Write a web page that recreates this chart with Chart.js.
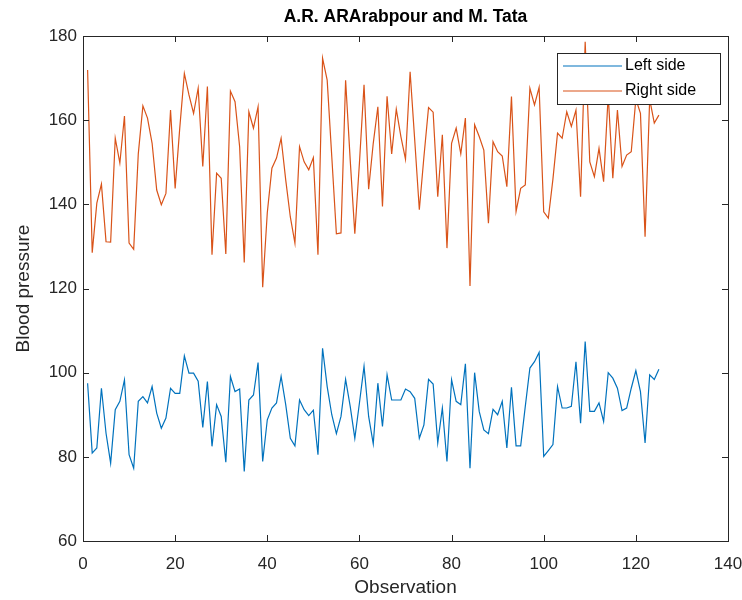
<!DOCTYPE html>
<html>
<head>
<meta charset="utf-8">
<title>Blood pressure</title>
<script src="https://cdn.jsdelivr.net/npm/chart.js@4.4.1/dist/chart.umd.min.js"></script>
<style>
  html, body { margin: 0; padding: 0; background: #fff; }
  #wrap { width: 742px; height: 600px; }
</style>
</head>
<body>
<div id="wrap"><canvas id="bp-chart" width="742" height="600"></canvas></div>
<script>
// values, one per observation (1..125)
const leftSide = [
  97.5, 80.9, 82.1, 96.3, 85.6, 78.5, 91.2, 93.2, 98.3, 80.5,
  77.3, 93.2, 94.3, 92.8, 96.7, 90.4, 86.8, 89.2, 96.3, 95.1,
  95.1, 104, 99.9, 99.9, 98, 87, 97.9, 82.5, 92.4, 89.6,
  78.7, 99.1, 95.5, 96.1, 76.5, 93.5, 94.7, 102.4, 78.9, 88.8,
  91.6, 92.8, 99.1, 92.4, 84.4, 82.6, 93.5, 91.2, 89.8, 91.1,
  80.5, 105.8, 96.7, 90, 85.5, 89.6, 98.4, 92, 84.4, 92.8,
  101.5, 89.6, 83.1, 97.5, 87.2, 99.5, 93.5, 93.5, 93.5, 96.1,
  95.5, 93.9, 84.4, 87.6, 98.4, 97.3, 83.3, 91.6, 78.9, 98.3,
  93.2, 92.4, 102.1, 77.3, 100, 90.8, 86.4, 85.5, 91.3, 90,
  93.2, 82.1, 96.5, 82.6, 82.6, 92, 101.1, 102.6, 104.8, 80.1,
  81.5, 82.9, 96.7, 91.6, 91.6, 92, 102.6, 88, 107.4, 90.8,
  90.8, 92.8, 88.4, 100, 98.7, 96.3, 91, 91.6, 96.3, 100.5,
  95.5, 83.3, 99.5, 98.4, 100.8
];
const rightSide = [
  171.9, 128.5, 140.3, 144.8, 131.1, 131, 155.7, 149.8, 161, 130.8,
  129.3, 152, 163.4, 160.5, 154.5, 143.4, 139.9, 142.6, 162.4, 143.8,
  158.1, 171.1, 166, 161.6, 167.6, 149, 168, 128, 147.4, 146.2,
  128.2, 166.9, 164.4, 153.7, 126.2, 162, 158.1, 163.2, 120.3, 138,
  148.6, 151, 155.7, 145.8, 137, 130.8, 153.7, 150.1, 148.2, 151.1,
  128, 174.7, 169.5, 151.3, 133, 133.2, 169.5, 150.5, 133, 149.8,
  168.4, 143.6, 154.5, 163.2, 139.5, 165.7, 152, 162.6, 156.1, 150.7,
  171.5, 155.3, 138.7, 151.3, 163, 161.9, 141.8, 156.5, 129.6, 154.5,
  158.1, 152, 160.5, 120.6, 158.9, 156.1, 152.9, 135.5, 154.9, 152.5,
  151.5, 144.2, 165.6, 138.3, 143.8, 144.6, 167.6, 163.6, 167.8, 138.2,
  136.7, 146, 156.9, 155.7, 162, 158.5, 162.4, 141.8, 178.6, 150.1,
  146.6, 153.3, 145.4, 166, 146.2, 162.4, 149, 151.7, 152.5, 165,
  161.6, 132.3, 165, 159.3, 161.2
];
const observations = leftSide.map((_, i) => i + 1);
const seriesNames = ['Left side', 'Right side'];
const xTicks = [0, 20, 40, 60, 80, 100, 120, 140];
const yTicks = [60, 80, 100, 120, 140, 160, 180];

const FONT = "'Liberation Sans', Arial, Helvetica, sans-serif";
const AXIS_COLOR = '#262626';

// MATLAB style box with inward ticks on all four sides, plus the boxed legend
const matlabAxes = {
  id: 'matlabAxes',
  afterDraw(chart) {
    const { ctx, chartArea: a, scales } = chart;
    const len = 6;
    ctx.save();
    ctx.strokeStyle = AXIS_COLOR;
    ctx.lineWidth = 1;
    ctx.beginPath();
    scales.x.ticks.forEach(t => {
      const px = Math.round(scales.x.getPixelForValue(t.value)) + 0.5;
      ctx.moveTo(px, a.bottom); ctx.lineTo(px, a.bottom - len);
      ctx.moveTo(px, a.top); ctx.lineTo(px, a.top + len);
    });
    scales.y.ticks.forEach(t => {
      const py = Math.round(scales.y.getPixelForValue(t.value)) + 0.5;
      ctx.moveTo(a.left, py); ctx.lineTo(a.left + len, py);
      ctx.moveTo(a.right, py); ctx.lineTo(a.right - len, py);
    });
    ctx.stroke();
    ctx.strokeRect(Math.round(a.left) + 0.5, Math.round(a.top) + 0.5,
      Math.round(a.right - a.left), Math.round(a.bottom - a.top));

    // legend box
    const bx = a.right - 171, by = a.top + 17, bw = 163, bh = 51;
    ctx.fillStyle = '#fff';
    ctx.fillRect(bx, by, bw, bh);
    ctx.strokeRect(bx + 0.5, by + 0.5, bw, bh);
    ctx.font = '16px ' + FONT;
    ctx.textBaseline = 'middle';
    chart.data.datasets.forEach((ds, i) => {
      const cy = by + 13 + i * 25;
      ctx.strokeStyle = ds.borderColor;
      ctx.lineWidth = 1.2;
      ctx.beginPath();
      ctx.moveTo(bx + 6, cy); ctx.lineTo(bx + 65, cy);
      ctx.stroke();
      ctx.fillStyle = '#000';
      ctx.fillText(ds.label, bx + 68, cy);
    });
    ctx.restore();
  }
};

const toPoints = vals => vals.map((v, i) => ({ x: observations[i], y: v }));

new Chart(document.getElementById('bp-chart').getContext('2d'), {
  type: 'line',
  data: {
    datasets: [
      { label: seriesNames[0], data: toPoints(leftSide), borderColor: '#0072BD', borderWidth: 1.2, pointRadius: 0, tension: 0 },
      { label: seriesNames[1], data: toPoints(rightSide), borderColor: '#D95319', borderWidth: 1.2, pointRadius: 0, tension: 0 }
    ]
  },
  options: {
    responsive: false,
    animation: false,
    layout: { padding: 0 },
    plugins: {
      legend: { display: false },
      tooltip: { enabled: false },
      title: {
        display: true,
        fullSize: false,
        text: 'A.R. ARArabpour and M. Tata',
        color: '#000',
        font: { family: FONT, size: 17.5, weight: 'bold' },
        padding: { top: 7, bottom: 8 }
      }
    },
    scales: {
      x: {
        type: 'linear',
        min: 0, max: 140,
        afterBuildTicks: s => { s.ticks = xTicks.map(v => ({ value: v })); },
        afterFit: s => { s.height = 59; s.paddingLeft = 0; s.paddingRight = 14; },
        grid: { display: false, drawTicks: false },
        border: { display: false },
        ticks: { color: AXIS_COLOR, padding: 13, maxRotation: 0, font: { family: FONT, size: 17 } },
        title: { display: true, text: 'Observation', color: AXIS_COLOR, padding: { top: 0, bottom: 1 }, font: { family: FONT, size: 19 } }
      },
      y: {
        min: 60, max: 180,
        afterBuildTicks: s => { s.ticks = yTicks.map(v => ({ value: v })); },
        afterFit: s => { s.width = 83; },
        grid: { display: false, drawTicks: false },
        border: { display: false },
        ticks: { color: AXIS_COLOR, padding: 6, font: { family: FONT, size: 17 } },
        title: { display: true, text: 'Blood pressure', color: AXIS_COLOR, padding: { top: 12, bottom: 0 }, font: { family: FONT, size: 19 } }
      }
    }
  },
  plugins: [matlabAxes]
});
</script>
</body>
</html>
